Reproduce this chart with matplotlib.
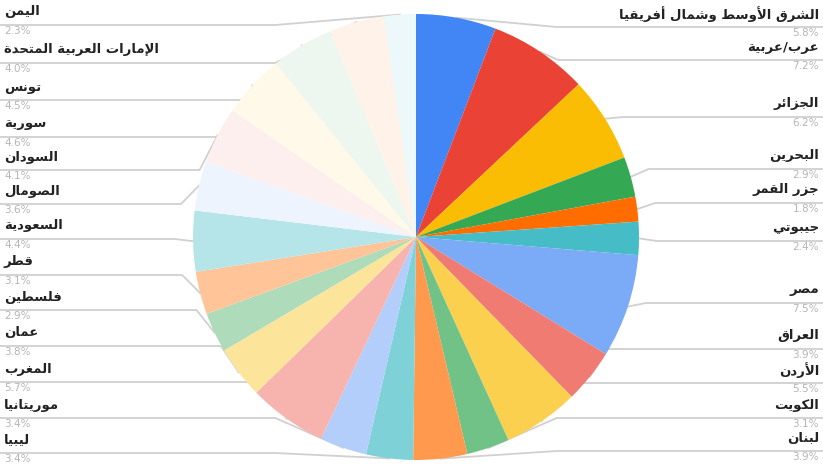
import numpy as np
import matplotlib
matplotlib.use("Agg")
import matplotlib.pyplot as plt

# slices clockwise from 12 o'clock
countries = [
    "الشرق الأوسط وشمال أفريقيا", "عرب/عربية", "الجزائر", "البحرين", "جزر القمر",
    "جيبوتي", "مصر", "العراق", "الأردن", "الكويت", "لبنان",
    "ليبيا", "موريتانيا", "المغرب", "عمان", "فلسطين", "قطر", "السعودية",
    "الصومال", "السودان", "سورية", "تونس", "الإمارات العربية المتحدة", "اليمن",
]
shares = [
    5.8, 7.2, 6.2, 2.9, 1.8,
    2.4, 7.5, 3.9, 5.5, 3.1, 3.9,
    3.4, 3.4, 5.7, 3.8, 2.9, 3.1, 4.4,
    3.6, 4.1, 4.6, 4.5, 4.0, 2.3,
]
colors = [
    "#4285F4", "#EA4335", "#FBBC04", "#34A853", "#FF6D01",
    "#46BDC6", "#7BAAF7", "#F07B72", "#FCD04F", "#71C287", "#FF994D",
    "#7ED1D7", "#B3CEFB", "#F7B4AE", "#FDE49B", "#AEDCBA", "#FFC599", "#B5E5E8",
    "#EEF4FE", "#FDEFEE", "#FEF9E8", "#EDF7F0", "#FFF2E8", "#ECF8F9",
]

# label layout (pixels from top): name row for each slice
label_y = [
    14, 47, 104, 156, 190, 228, 290, 336, 370, 405, 438,
    440, 405, 369, 333, 297, 262, 226, 191, 157, 124, 87, 50, 12,
]

# --- minimal arabic shaping (matplotlib has no bidi / joining) ---
_FORMS = {}
for ch, base, n in [
    ("\u0621", 0xFE80, 1), ("\u0622", 0xFE81, 2), ("\u0623", 0xFE83, 2),
    ("\u0624", 0xFE85, 2), ("\u0625", 0xFE87, 2), ("\u0626", 0xFE89, 4),
    ("\u0627", 0xFE8D, 2), ("\u0628", 0xFE8F, 4), ("\u0629", 0xFE93, 2),
    ("\u062A", 0xFE95, 4), ("\u062B", 0xFE99, 4), ("\u062C", 0xFE9D, 4),
    ("\u062D", 0xFEA1, 4), ("\u062E", 0xFEA5, 4), ("\u062F", 0xFEA9, 2),
    ("\u0630", 0xFEAB, 2), ("\u0631", 0xFEAD, 2), ("\u0632", 0xFEAF, 2),
    ("\u0633", 0xFEB1, 4), ("\u0634", 0xFEB5, 4), ("\u0635", 0xFEB9, 4),
    ("\u0636", 0xFEBD, 4), ("\u0637", 0xFEC1, 4), ("\u0638", 0xFEC5, 4),
    ("\u0639", 0xFEC9, 4), ("\u063A", 0xFECD, 4), ("\u0641", 0xFED1, 4),
    ("\u0642", 0xFED5, 4), ("\u0643", 0xFED9, 4), ("\u0644", 0xFEDD, 4),
    ("\u0645", 0xFEE1, 4), ("\u0646", 0xFEE5, 4), ("\u0647", 0xFEE9, 4),
    ("\u0648", 0xFEED, 2), ("\u0649", 0xFEEF, 2), ("\u064A", 0xFEF1, 4),
]:
    _FORMS[ch] = (base, n)
_LAM_ALEF = {"\u0622": 0xFEF5, "\u0623": 0xFEF7, "\u0625": 0xFEF9, "\u0627": 0xFEFB}


def shape(text):
    chars = list(text)
    out = []
    i = 0
    while i < len(chars):
        c = chars[i]
        if c not in _FORMS:
            out.append(c)
            i += 1
            continue
        prev = chars[i - 1] if i > 0 else None
        jp = prev in _FORMS and _FORMS[prev][1] == 4
        nxt = chars[i + 1] if i + 1 < len(chars) else None
        if c == "\u0644" and nxt in _LAM_ALEF:
            out.append(chr(_LAM_ALEF[nxt] + (1 if jp else 0)))
            i += 2
            continue
        base, n = _FORMS[c]
        jn = n == 4 and nxt in _FORMS
        if n == 1:
            form = 0
        elif n == 2:
            form = 1 if jp else 0
        else:
            form = 3 if (jp and jn) else 1 if jp else 2 if jn else 0
        out.append(chr(base + form))
        i += 1
    return "".join(reversed(out))


W, H = 823, 470
fig = plt.figure(figsize=(W / 100, H / 100), dpi=100)
ax = fig.add_axes([0, 0, 1, 1])

cx, cy, r = 416, 237, 223
vals = np.array(shares)
# y axis is flipped below, so counterclock in data = clockwise on screen
ax.pie(vals, colors=colors, startangle=-90, counterclock=True,
       center=(cx, cy), radius=r, frame=True,
       wedgeprops=dict(linewidth=0))
ax.set_xlim(0, W)
ax.set_ylim(H, 0)
ax.set_aspect("equal")
ax.axis("off")

# leader lines + labels
cum = np.cumsum(vals) - vals / 2
mid = cum / vals.sum() * 2 * np.pi
for k, name in enumerate(countries):
    a = mid[k]
    sx = cx + r * np.sin(a)
    sy = cy - r * np.cos(a)
    ly = label_y[k] + 13
    if np.sin(a) >= 0:
        ex = max(sx, cx + r * 0.55) + 18
        ax.plot([sx, ex, W], [sy, ly, ly], color="#d0d0d0", lw=1.3, zorder=0.5)
        ax.text(W - 4, label_y[k], shape(name), ha="right", va="center",
                fontsize=9.5, fontweight="bold", color="#222222")
        ax.text(W - 4, label_y[k] + 19, f"{shares[k]:.1f}%", ha="right", va="center",
                fontsize=7.5, color="#b5b5b5")
    else:
        ex = min(sx, cx - r * 0.55) - 18
        ax.plot([sx, ex, 0], [sy, ly, ly], color="#d0d0d0", lw=1.3, zorder=0.5)
        ax.text(4, label_y[k], shape(name), ha="left", va="center",
                fontsize=9.5, fontweight="bold", color="#222222")
        ax.text(4, label_y[k] + 19, f"{shares[k]:.1f}%", ha="left", va="center",
                fontsize=7.5, color="#b5b5b5")

fig.savefig("out.png", dpi=100, facecolor="white")
